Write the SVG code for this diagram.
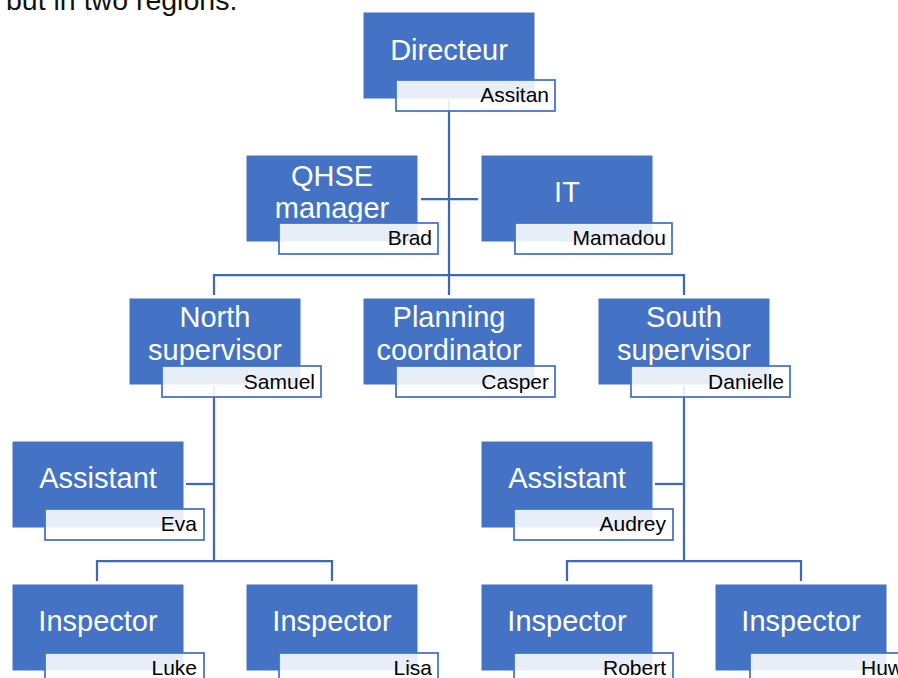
<svg xmlns="http://www.w3.org/2000/svg" width="898" height="678" viewBox="0 0 898 678">
<style>
.box{fill:#4472C4;stroke:#ffffff;stroke-width:1}
.nb{fill:#ffffff;fill-opacity:0.88;stroke:#4472C4;stroke-width:1.75}
.lbl{font-family:"Liberation Sans",Arial,sans-serif;font-size:29px;fill:#ffffff;text-anchor:middle}
.nm{font-family:"Liberation Sans",Arial,sans-serif;font-size:21px;fill:#000000;text-anchor:end}
.cn{fill:none;stroke:#3F68B5;stroke-width:2.25}
.top{font-family:"Liberation Sans",Arial,sans-serif;font-size:28.5px;fill:#111111}
</style>
<rect width="898" height="678" fill="#ffffff"/>
<text class="top" x="6" y="10">but in two regions.</text>
<g id="connectors">
<path class="cn" d="M449 99 V275"/>
<path class="cn" d="M421 199 H478"/>
<path class="cn" d="M214 295 V275 H684 V295"/>
<path class="cn" d="M449 275 V295"/>
<path class="cn" d="M214 385 V561"/>
<path class="cn" d="M186 484 H214"/>
<path class="cn" d="M97 581 V561 H332 V581"/>
<path class="cn" d="M684 385 V561"/>
<path class="cn" d="M655 484 H684"/>
<path class="cn" d="M567 581 V561 H801 V581"/>
</g>
<g id="directeur">
<rect class="box" x="363" y="12" width="172" height="87"/>
<text class="lbl" x="449" y="60">Directeur</text>
<rect class="nb" x="396" y="80" width="159" height="31"/>
<text class="nm" x="549" y="102">Assitan</text>
</g>
<g id="qhse">
<rect class="box" x="246" y="155" width="172" height="87"/>
<text class="lbl" x="332" y="186">QHSE</text>
<text class="lbl" x="332" y="218">manager</text>
<rect class="nb" x="279" y="223" width="159" height="31"/>
<text class="nm" x="432" y="245">Brad</text>
</g>
<g id="it">
<rect class="box" x="481" y="155" width="172" height="87"/>
<text class="lbl" x="567" y="202">IT</text>
<rect class="nb" x="515" y="223" width="157" height="31"/>
<text class="nm" x="666" y="245">Mamadou</text>
</g>
<g id="north">
<rect class="box" x="129" y="298" width="172" height="87"/>
<text class="lbl" x="215" y="327">North</text>
<text class="lbl" x="215" y="360">supervisor</text>
<rect class="nb" x="162" y="366" width="159" height="31"/>
<text class="nm" x="315" y="389">Samuel</text>
</g>
<g id="planning">
<rect class="box" x="363" y="298" width="172" height="87"/>
<text class="lbl" x="449" y="327">Planning</text>
<text class="lbl" x="449" y="360">coordinator</text>
<rect class="nb" x="396" y="366" width="159" height="31"/>
<text class="nm" x="549" y="389">Casper</text>
</g>
<g id="south">
<rect class="box" x="598" y="298" width="172" height="87"/>
<text class="lbl" x="684" y="327">South</text>
<text class="lbl" x="684" y="360">supervisor</text>
<rect class="nb" x="631" y="366" width="159" height="31"/>
<text class="nm" x="784" y="389">Danielle</text>
</g>
<g id="assistant-north">
<rect class="box" x="12" y="441" width="172" height="87"/>
<text class="lbl" x="98" y="488">Assistant</text>
<rect class="nb" x="45" y="509" width="159" height="31"/>
<text class="nm" x="197" y="531">Eva</text>
</g>
<g id="assistant-south">
<rect class="box" x="481" y="441" width="172" height="87"/>
<text class="lbl" x="567" y="488">Assistant</text>
<rect class="nb" x="514" y="509" width="159" height="31"/>
<text class="nm" x="666" y="531">Audrey</text>
</g>
<g id="inspector-luke">
<rect class="box" x="12" y="584" width="172" height="87"/>
<text class="lbl" x="98" y="631">Inspector</text>
<rect class="nb" x="45" y="653" width="159" height="31"/>
<text class="nm" x="197" y="675">Luke</text>
</g>
<g id="inspector-lisa">
<rect class="box" x="246" y="584" width="172" height="87"/>
<text class="lbl" x="332" y="631">Inspector</text>
<rect class="nb" x="279" y="653" width="159" height="31"/>
<text class="nm" x="432" y="675">Lisa</text>
</g>
<g id="inspector-robert">
<rect class="box" x="481" y="584" width="172" height="87"/>
<text class="lbl" x="567" y="631">Inspector</text>
<rect class="nb" x="514" y="653" width="159" height="31"/>
<text class="nm" x="666" y="675">Robert</text>
</g>
<g id="inspector-huw">
<rect class="box" x="715" y="584" width="172" height="87"/>
<text class="lbl" x="801" y="631">Inspector</text>
<rect class="nb" x="750" y="653" width="159" height="31"/>
<text class="nm" x="903" y="675">Huw</text>
</g>
</svg>
